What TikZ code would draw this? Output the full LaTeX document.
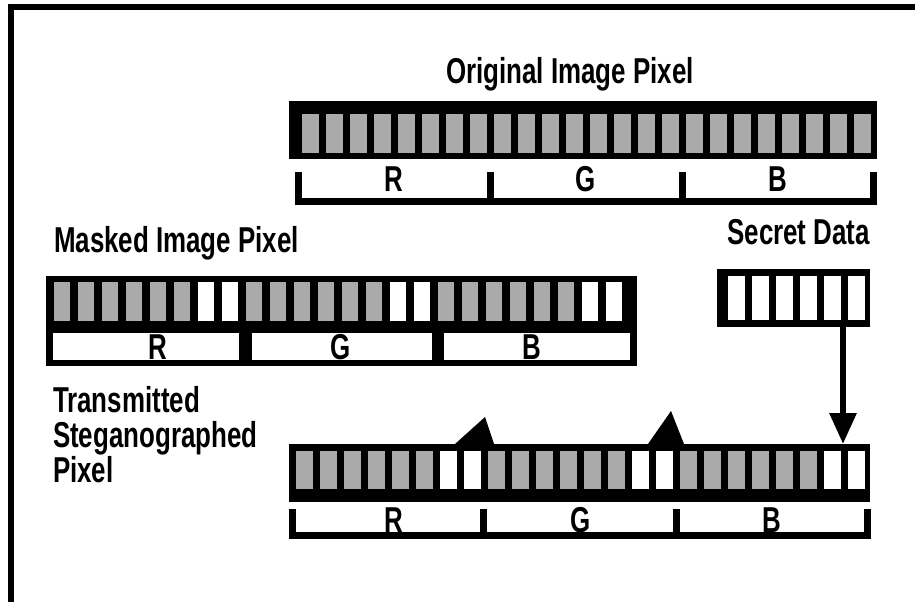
\documentclass[tikz,border=0pt]{standalone}
\usepackage{fontspec}
\newfontfamily\pix{Liberation Sans}[FakeStretch=0.72]
\usetikzlibrary{arrows.meta}
\definecolor{cellgray}{RGB}{170,170,170}
\tikzset{
  blk/.style={fill=black, draw=none, inner sep=0pt, outer sep=0pt, anchor=north west},
  lbl/.style={font=\pix\bfseries\fontsize{36}{40}\selectfont, inner sep=0pt, outer sep=0pt, anchor=base},
  brk/.style={line width=7pt, line join=miter, line cap=butt},
  gcell/.style={fill=cellgray},
  wcell/.style={fill=white},
  conn/.style={line width=6pt, -{Triangle[width=26pt,length=31pt]}}
}
\begin{document}
\begin{tikzpicture}[x=1pt,y=-1pt]
\useasboundingbox (0,0) rectangle (915,602);
% frame (top and left edges)
\fill (8,4) rectangle (915,10);
\fill (8,4) rectangle (14,602);

% ---------- Original image pixel ----------
\node[lbl] (origlbl) at (570,83) {Original Image Pixel};
\node[blk, minimum width=588pt, minimum height=58pt] (orig) at (289,101) {};
\foreach \i in {0,...,23}
  \fill[gcell] ({302+24*\i},114) rectangle +(16.5,39);
\draw[brk] (298.5,172) -- (298.5,201) -- (873.5,201) -- (873.5,172);
\draw[brk] (490,172) -- (490,201);
\draw[brk] (682,172) -- (682,201);
\node[lbl] (oR) at (394,191) {R};
\node[lbl] (oG) at (586,191) {G};
\node[lbl] (oB) at (778,191) {B};

% ---------- Masked image pixel ----------
\node[lbl, anchor=base west] (masklbl) at (54,252) {Masked Image Pixel};
\node[blk, minimum width=591pt, minimum height=90pt] (mask) at (46,276) {};
\foreach \b in {0,1,2}{
  \foreach \j in {0,...,5}
    \fill[gcell] ({53.5+24*(8*\b+\j)},282) rectangle +(16.5,39);
  \foreach \j in {6,7}
    \fill[wcell] ({53.5+24*(8*\b+\j)},282) rectangle +(16.5,39);
}
\fill[wcell] (53,333) rectangle (239,360);
\fill[wcell] (252,333) rectangle (432,360);
\fill[wcell] (444,333) rectangle (630,360);
\node[lbl] (mR) at (158,359) {R};
\node[lbl] (mG) at (341,359) {G};
\node[lbl] (mB) at (532,359) {B};

% ---------- Secret data ----------
\node[lbl, anchor=base east] (secretlbl) at (870,244) {Secret Data};
\node[blk, minimum width=153pt, minimum height=58pt] (secret) at (717,269) {};
\foreach \k in {0,...,5}
  \fill[wcell] ({728+24*\k},276) rectangle +(16.5,44);

% ---------- Transmitted steganographed pixel ----------
\node[lbl, anchor=base west] (tr1) at (53,412) {Transmitted};
\node[lbl, anchor=base west] (tr2) at (53,447) {Steganographed};
\node[lbl, anchor=base west] (tr3) at (53,482) {Pixel};
\node[blk, minimum width=581pt, minimum height=58pt] (trans) at (289,444) {};
\foreach \b in {0,1,2}{
  \foreach \j in {0,...,5}
    \fill[gcell] ({296+24*(8*\b+\j)},451) rectangle +(16.5,38);
  \foreach \j in {6,7}
    \fill[wcell] ({296+24*(8*\b+\j)},451) rectangle +(16.5,38);
}
\draw[brk] (292.5,509) -- (292.5,535) -- (867,535) -- (867,509);
\draw[brk] (483.5,509) -- (483.5,535);
\draw[brk] (676.5,509) -- (676.5,535);
\node[lbl] (tR) at (394,532) {R};
\node[lbl] (tG) at (581,532) {G};
\node[lbl] (tB) at (772,532) {B};

% insertion markers
\fill (455,444) -- (485,417) -- (494,444) -- cycle;
\fill (648,444) -- (671,411) -- (684,444) -- cycle;

% connector from secret data to transmitted pixel
\coordinate (ax) at (843,0);
\draw[conn] (secret.south -| ax) -- (trans.north -| ax);
\end{tikzpicture}
\end{document}
